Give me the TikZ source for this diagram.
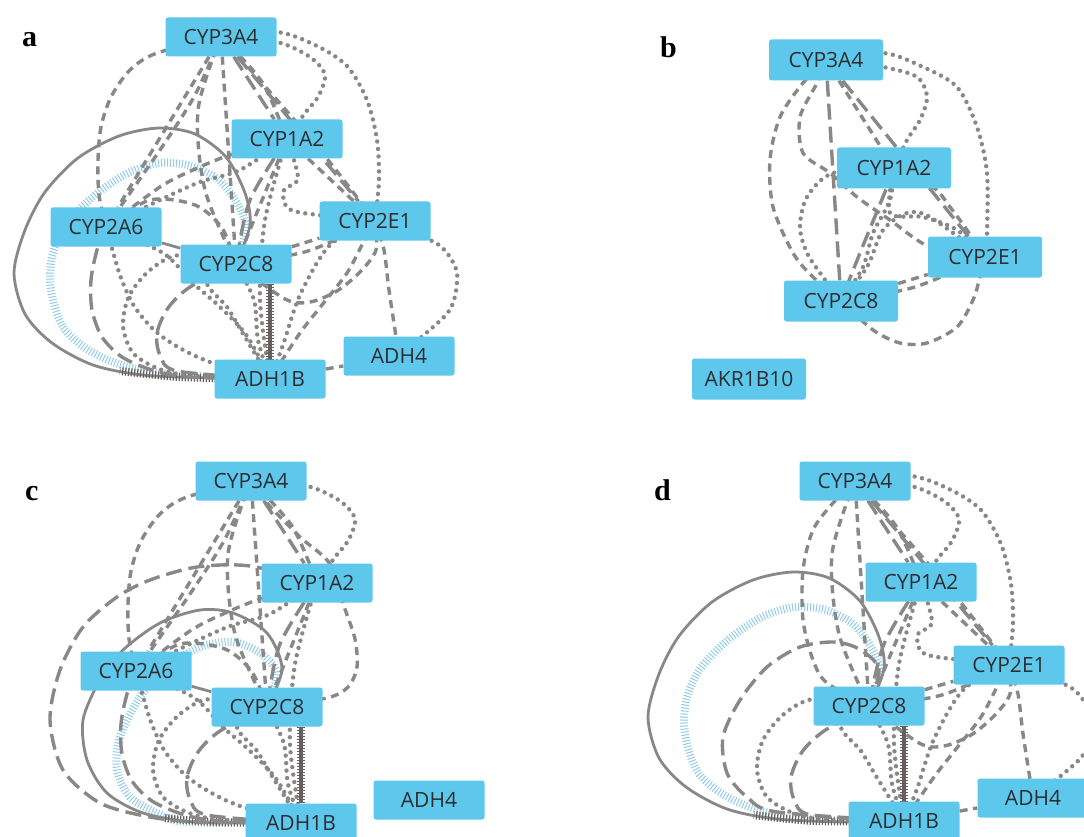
\documentclass[tikz,border=0pt]{standalone}
\usepackage{fontspec}
\setmainfont{Liberation Serif}
\newfontfamily\genefont{Open Sans}
\usetikzlibrary{backgrounds}
\definecolor{geneblue}{RGB}{94,200,236}
\definecolor{genetext}{RGB}{45,45,48}
\definecolor{edgegray}{RGB}{138,135,135}
\definecolor{tickgray}{RGB}{100,96,96}
\definecolor{hatchblue}{RGB}{145,203,232}
\tikzset{
  gene/.style={rectangle, rounded corners=2.5pt, fill=geneblue, text=genetext, minimum width=111pt, minimum height=39pt, inner sep=0pt, font=\genefont\fontsize{21}{21}\selectfont},
  geneb/.style={gene, minimum width=114pt, minimum height=41pt},
  panellabel/.style={anchor=base west, inner sep=0pt, font=\bfseries\fontsize{30}{30}\selectfont},
  lnk/.style={draw=edgegray, line width=3.4pt},
  dsh/.style={lnk, dash pattern=on 8pt off 5.5pt},
  lds/.style={lnk, dash pattern=on 16pt off 7pt},
  dts/.style={lnk, line width=4.4pt, line cap=round, dash pattern=on 0pt off 7.5pt},
  sld/.style={lnk, line width=2.8pt},
  hblue/.style={draw=hatchblue, line width=8pt, dash pattern=on 1pt off 2pt},
  hdark/.style={draw=tickgray, line width=8pt, dash pattern=on 1.2pt off 1.8pt},
}
% edges among CYP3A4 (T), CYP1A2 (P), CYP2C8 (C), ADH1B (B)
\newcommand\edgesCommon[1]{%
  \draw[dsh] (#1T) -- (#1C);
  \draw[dsh] plot[smooth] coordinates {(#1T) (198,110) (205,190) (#1C)};
  \draw[lds] (#1T) -- (#1P);
  \draw[dsh] plot[smooth] coordinates {(#1T) (262,82) (#1P)};
  \draw[dts] plot[smooth] coordinates {(#1T) (277,42) (310,57) (325,75) (318,97) (305,113) (#1P)};
  \draw[dsh] (#1P) -- (#1C);
  \draw[lds] plot[smooth] coordinates {(#1P) (250,200) (#1C)};
  \draw[dts] plot[smooth] coordinates {(#1P) (265,220) (260,300) (#1B)};
  \draw[hdark] (#1B.north |- #1C.south) -- (#1B.north);
  \draw[sld, draw=tickgray, line width=3.2pt] (#1B.north |- #1C.south) -- (#1B.north);
  \draw[dts] plot[smooth] coordinates {(#1C) (254,300) (258,340) (#1B)};
  \draw[lds] plot[smooth] coordinates {(#1C) (190,287) (168,308) (157,333) (160,355) (177,371) (#1B)};
  \draw[dts] plot[smooth] coordinates {(#1C) (180,255) (150,270) (129,296) (123,326) (133,353) (159,369) (193,376) (#1B)};
  \draw[dts] plot[smooth] coordinates {(#1C) (207,282) (227,307) (242,332) (#1B)};
}
% edges with CYP2A6 (A)
\newcommand\edgesAsix[1]{%
  \draw[dsh] plot[smooth] coordinates {(#1T) (157,53) (130,70) (111,97) (101,127) (98,160) (99,195) (#1A)};
  \draw[dsh] (#1T) -- (#1A);
  \draw[dsh] plot[smooth] coordinates {(#1T) (195,95) (160,150) (#1A)};
  \draw[dsh] plot[smooth] coordinates {(#1P) (230,155) (193,170) (160,187) (#1A)};
  \draw[dts] plot[smooth] coordinates {(#1P) (240,170) (200,182) (160,200) (#1A)};
  \draw[sld] (#1A) -- (#1C);
  \draw[dsh] plot[smooth] coordinates {(#1A) (150,200) (195,205) (222,228) (#1C)};
  \draw[lds] plot[smooth] coordinates {(#1A) (97,250) (91,280) (92,310) (102,337) (122,357) (152,370) (188,377) (#1B)};
  \draw[dts] plot[smooth] coordinates {(#1A) (113,252) (121,278) (134,306) (154,330) (178,347) (210,362) (#1B)};
  \draw[dts] plot[smooth] coordinates {(#1A) (163,253) (193,283) (220,307) (247,336) (#1B)};
}
% edges with CYP2E1 (E) and ADH4 (H)
\newcommand\edgesEone[1]{%
  \draw[dts] plot[smooth] coordinates {(#1T) (277,32) (317,46) (347,66) (367,100) (377,140) (379,180) (#1E)};
  \draw[dts] plot[smooth] coordinates {(#1E) (430,240) (447,253) (457,273) (454,300) (443,318) (#1H)};
  \draw[dsh] plot[smooth] coordinates {(#1E) (384,250) (389,290) (#1H)};
  \draw[dsh] plot[smooth] coordinates {(#1E) (363,243) (347,273) (322,305) (300,333) (#1B)};
  \draw[dsh] plot[smooth] coordinates {(#1E) (376,250) (360,272) (337,291) (310,302) (285,299) (#1C)};
  \draw[dsh] (#1C) -- (#1E);
  \draw[dsh] plot[smooth] coordinates {(#1C) (308,251) (#1E)};
  \draw[lds] (#1T) -- (#1E);
  \draw[dsh] plot[smooth] coordinates {(#1T) (255,75) (320,150) (#1E)};
  \draw[dsh] (#1P) -- (#1E);
  \draw[dts] plot[smooth] coordinates {(#1P) (298,178) (284,190) (286,206) (303,213) (#1E)};
  \draw[dts] plot[smooth] coordinates {(#1E) (330,245) (300,295) (283,345) (#1B)};
  \draw[dsh] (#1B) -- (#1H);
}
% big loops ADH1B - CYP2C8 (panels a, d)
\newcommand\loopsAD[1]{%
  \draw[hblue] plot[smooth] coordinates {(#1B) (180,375) (128,367) (90,351) (63,327) (51,290) (52,257) (66,225) (95,195) (128,173) (160,163) (192,166) (219,180) (237,203) (246,228) (#1C)};
  \draw[sld] plot[smooth] coordinates {(#1B) (213,378) (143,375) (93,365) (52,343) (25,314) (14,273) (25,230) (45,192) (78,158) (119,136) (159,128) (195,134) (226,157) (245,193) (250,225) (#1C)};
  \draw[hdark] plot[smooth] coordinates {(#1B) (180,377) (120,371)};
}
\begin{document}
\begin{tikzpicture}[x=1pt,y=-1pt]
\useasboundingbox (0,0) rectangle (1084,837);
% ---------- panel a ----------
\node[panellabel] (la) at (22,47) {a};
\node[gene] (aT) at (221,37) {CYP3A4};
\node[gene] (aP) at (287,139) {CYP1A2};
\node[gene] (aA) at (106,227) {CYP2A6};
\node[gene] (aE) at (375,221) {CYP2E1};
\node[gene] (aC) at (236,264) {CYP2C8};
\node[gene] (aH) at (399,356) {ADH4};
\node[gene] (aB) at (270,379) {ADH1B};
% ---------- panel b ----------
\node[panellabel] (lb) at (660,58) {b};
\node[geneb] (bT) at (826,60) {CYP3A4};
\node[geneb] (bP) at (894,168) {CYP1A2};
\node[geneb] (bE) at (985,257) {CYP2E1};
\node[geneb] (bC) at (841,301) {CYP2C8};
\node[geneb] (bK) at (749,379) {AKR1B10};
% ---------- panel c ----------
\node[panellabel] (lc) at (25,500) {c};
\begin{scope}[shift={(30,444)}]
\node[gene] (cT) at (221,37) {CYP3A4};
\node[gene] (cP) at (287,139) {CYP1A2};
\node[gene] (cA) at (106,227) {CYP2A6};
\node[gene] (cC) at (237,263) {CYP2C8};
\node[gene] (cH) at (399,356) {ADH4};
\node[gene] (cB) at (271,379) {ADH1B};
\end{scope}
% ---------- panel d ----------
\node[panellabel] (ld) at (654,500) {d};
\begin{scope}[shift={(634,444)}]
\node[gene] (dT) at (221,37) {CYP3A4};
\node[gene] (dP) at (287,138) {CYP1A2};
\node[gene] (dE) at (375,221) {CYP2E1};
\node[gene] (dC) at (235,262) {CYP2C8};
\node[gene] (dH) at (399,354) {ADH4};
\node[gene] (dB) at (270,377) {ADH1B};
\end{scope}
% ---------- connectors ----------
\begin{scope}[on background layer]
\fill[white] (0,0) rectangle (1084,837);
% panel a
\loopsAD{a}
\edgesCommon{a}
\edgesAsix{a}
\edgesEone{a}
% panel c
\begin{scope}[shift={(30,444)}]
  \draw[hblue] plot[smooth] coordinates {(cB) (157,378) (127,369) (100,353) (87,326) (90,293) (110,253) (137,223) (170,203) (203,198) (230,209) (247,229) (cC)};
  \draw[sld] plot[smooth] coordinates {(cB) (217,379) (163,378) (113,369) (77,349) (57,316) (53,276) (70,236) (93,206) (130,179) (170,166) (203,169) (237,189) (252,225) (cC)};
  \draw[hdark] plot[smooth] coordinates {(cB) (185,378) (135,374)};
  \draw[lds] plot[smooth] coordinates {(cP) (220,122) (167,123) (120,136) (87,153) (53,183) (30,226) (20,276) (33,326) (70,359) (120,373) (170,378) (cB)};
  \draw[dsh] plot[smooth] coordinates {(cT) (237,59) (270,93) (300,120) (315,165) (325,195) (327,223) (318,243) (297,254) (cC)};
  \edgesCommon{c}
  \edgesAsix{c}
\end{scope}
% panel d
\begin{scope}[shift={(634,444)}]
  \loopsAD{d}
  \draw[dsh] plot[smooth] coordinates {(dT) (199,59) (179,86) (169,126) (169,176) (179,216) (193,239) (dC)};
  \draw[lds] plot[smooth] coordinates {(dC) (245,225) (225,205) (200,198) (166,203) (133,223) (106,256) (89,293) (93,329) (113,353) (143,368) (dB)};
  \edgesCommon{d}
  \edgesEone{d}
\end{scope}
% panel b
\draw[dts] plot[smooth] coordinates {(bT) (883,53) (923,67) (957,87) (977,127) (987,173) (987,233) (bE)};
\draw[dts] plot[smooth] coordinates {(bT) (883,67) (917,77) (927,97) (920,120) (907,140) (bP)};
\draw[dsh] plot[smooth] coordinates {(bT) (803,83) (780,117) (770,160) (773,207) (793,253) (813,277) (bC)};
\draw[dsh] plot[smooth] coordinates {(bT) (817,83) (800,117) (803,153) (830,173) (857,197) (890,220) (930,247) (bE)};
\draw[lds] (bT) -- (bC);
\draw[lds] (bT) -- (bE);
\draw[dsh] (bT) -- (bP);
\draw[dts] plot[smooth] coordinates {(bP) (833,173) (807,197) (800,227) (807,253) (823,277) (bC)};
\draw[lds] plot[smooth] coordinates {(bP) (887,187) (860,253) (bC)};
\draw[dts] plot[smooth] coordinates {(bP) (890,200) (873,233) (863,267) (bC)};
\draw[dts] plot[smooth] coordinates {(bC) (867,267) (883,230) (907,213) (930,217) (bE)};
\draw[dsh] (bC) -- (bE);
\draw[dsh] plot[smooth] coordinates {(bC) (915,287) (bE)};
\draw[dsh] plot[smooth] coordinates {(bC) (873,330) (900,343) (927,343) (957,327) (973,300) (980,277) (bE)};
\draw[dts] plot[smooth] coordinates {(bP) (890,213) (923,217) (957,230) (bE)};
\draw[dsh] plot[smooth] coordinates {(bP) (933,187) (950,207) (967,230) (bE)};
\end{scope}
\end{tikzpicture}
\end{document}
